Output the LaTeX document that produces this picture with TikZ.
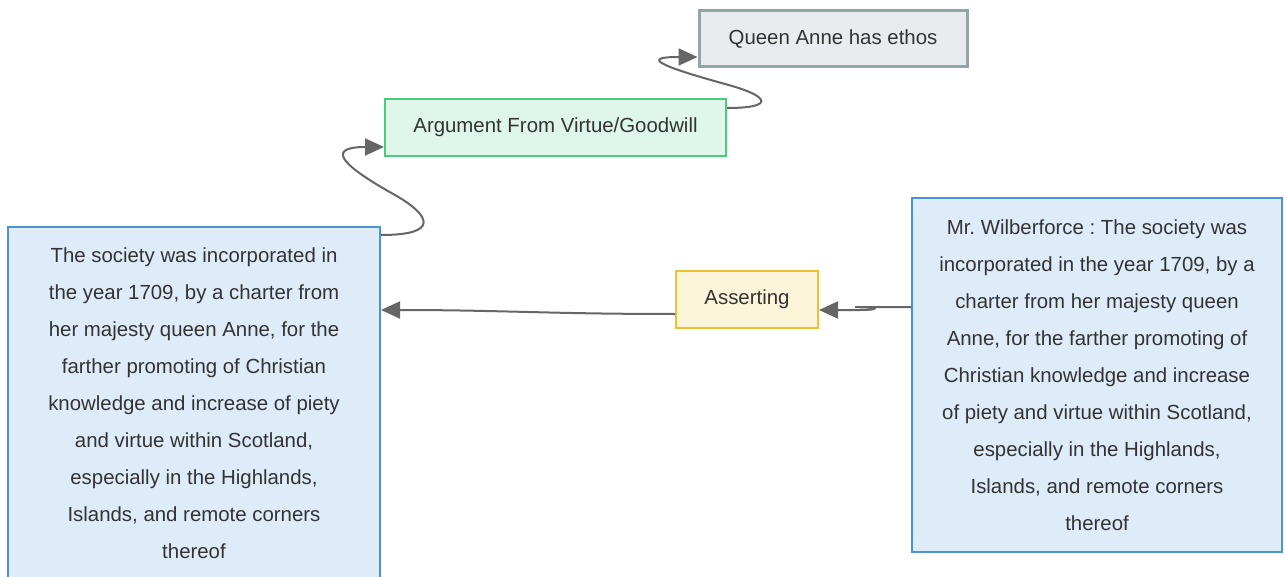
\documentclass[tikz,border=0pt]{standalone}
\usepackage{fontspec}
\setmainfont{Liberation Sans}
\usetikzlibrary{arrows.meta}
\frenchspacing
\definecolor{txt}{HTML}{333333}
\definecolor{bluefill}{HTML}{DDECF8}
\definecolor{blueline}{HTML}{4A94D4}
\definecolor{greyfill}{HTML}{E9ECEE}
\definecolor{greyline}{HTML}{95A5A6}
\definecolor{greenfill}{HTML}{DEF7EA}
\definecolor{greenline}{HTML}{4CCB7A}
\definecolor{yellowfill}{HTML}{FDF5DA}
\definecolor{yellowline}{HTML}{EBC232}
\definecolor{conn}{HTML}{666666}
\tikzset{
  base/.style={rectangle, inner sep=0pt, text=txt, align=center,
    font=\fontsize{20.4}{37}\selectfont\frenchspacing},
  bluebox/.style={base, fill=bluefill, draw=blueline, line width=2pt},
  greybox/.style={base, fill=greyfill, draw=greyline, line width=3pt},
  greenbox/.style={base, fill=greenfill, draw=greenline, line width=2pt},
  yellowbox/.style={base, fill=yellowfill, draw=yellowline, line width=2pt},
  link/.style={draw=conn, line width=2pt, -{Triangle[length=19pt,width=17pt]}}
}
\begin{document}
\begin{tikzpicture}[x=1pt,y=-1pt]
\useasboundingbox (0,0) rectangle (1284,577);
\node[greybox, minimum width=268pt, minimum height=56pt] (Q) at (833,39) {Queen Anne has ethos};
\node[greenbox, minimum width=341pt, minimum height=57pt] (A) at (555.5,127.5) {Argument From Virtue/Goodwill};
\node[yellowbox, minimum width=142pt, minimum height=57pt] (S) at (747,299.5) {Asserting};
\node[bluebox, minimum width=372pt, minimum height=352pt] (L) at (194,403) {The society was incorporated in\\the year 1709, by a charter from\\her majesty queen Anne, for the\\farther promoting of Christian\\knowledge and increase of piety\\and virtue within Scotland,\\especially in the Highlands,\\Islands, and remote corners\\thereof};
\node[bluebox, minimum width=370pt, minimum height=354pt] (R) at (1097,375) {Mr.\ Wilberforce : The society was\\incorporated in the year 1709, by a\\charter from her majesty queen\\Anne, for the farther promoting of\\Christian knowledge and increase\\of piety and virtue within Scotland,\\especially in the Highlands,\\Islands, and remote corners\\thereof};
% L -> A
\draw[link] ([yshift=-9pt]L.north east) .. controls +(60,0) and (430,215) .. (395,195)
  .. controls (350,170) and (320,147) .. ([yshift=-19.5pt]A.west);
% A -> Q
\draw[link] ([yshift=19.5pt]A.east) .. controls +(49,0) and (770,96) .. (725,84)
  .. controls (660,66) and (640,57) .. ([yshift=-18pt]Q.west);
% R -> S
\draw[link] ([yshift=68pt]R.west) -- (855,307) .. controls (880,307) and (880,310) .. (860,310) -- ([yshift=-10.5pt]S.east);
% S -> L
\draw[link] ([yshift=-14.5pt]S.west) .. controls (550,314) and (500,310) .. ([yshift=93pt]L.east);
\end{tikzpicture}
\end{document}
